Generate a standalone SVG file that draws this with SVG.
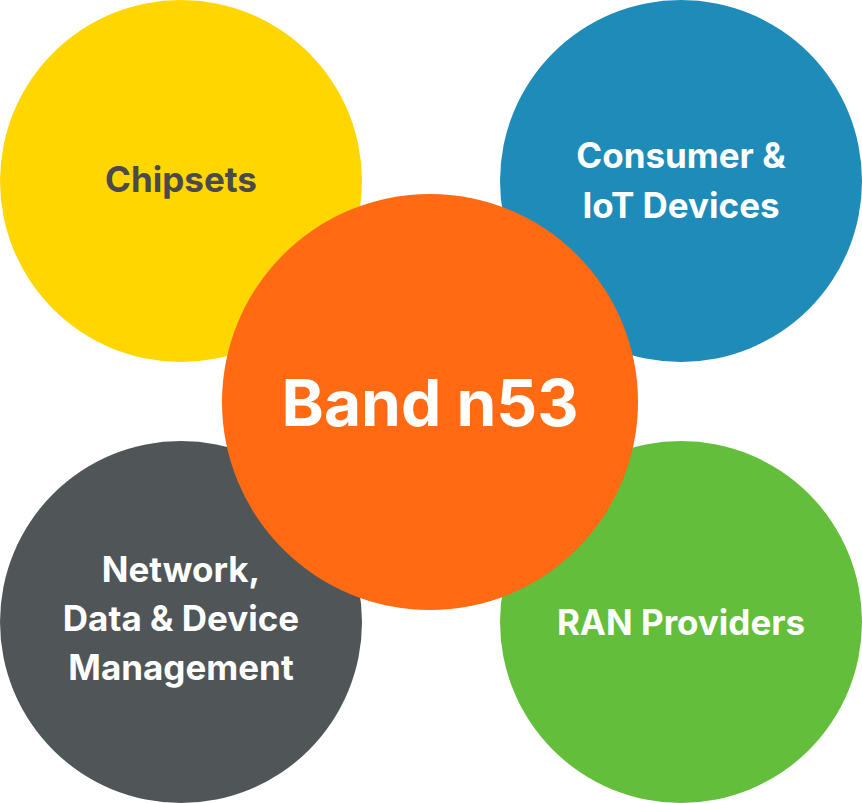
<svg xmlns="http://www.w3.org/2000/svg" width="862" height="803" viewBox="0 0 862 803">
<style>
text{font-family:Inter,"Open Sans","Liberation Sans",sans-serif;font-weight:700;text-anchor:middle}
.s{font-size:35px;fill:#fff}
</style>
<rect width="862" height="803" fill="#fff"/>
<g id="chipsets"><circle cx="181" cy="181" r="181" fill="#FFD600"/><text x="181" y="192" class="s" style="fill:#4a4a4a">Chipsets</text></g>
<g id="consumer"><circle cx="681" cy="181" r="181" fill="#1E8BB8"/><text x="681" y="168" class="s">Consumer &amp;</text><text x="681" y="218" class="s">IoT Devices</text></g>
<g id="network"><circle cx="181" cy="622" r="181" fill="#505558"/><text x="181" y="582" class="s">Network,</text><text x="181" y="631" class="s">Data &amp; Device</text><text x="181" y="680" class="s">Management</text></g>
<g id="ran"><circle cx="681" cy="622" r="181" fill="#63BE3B"/><text x="681" y="635" class="s">RAN Providers</text></g>
<g id="center"><circle cx="430" cy="402" r="208" fill="#FF6A13"/><text x="430" y="426" style="font-size:64px;fill:#fff">Band n53</text></g>
<g id="connectors"/>
</svg>
